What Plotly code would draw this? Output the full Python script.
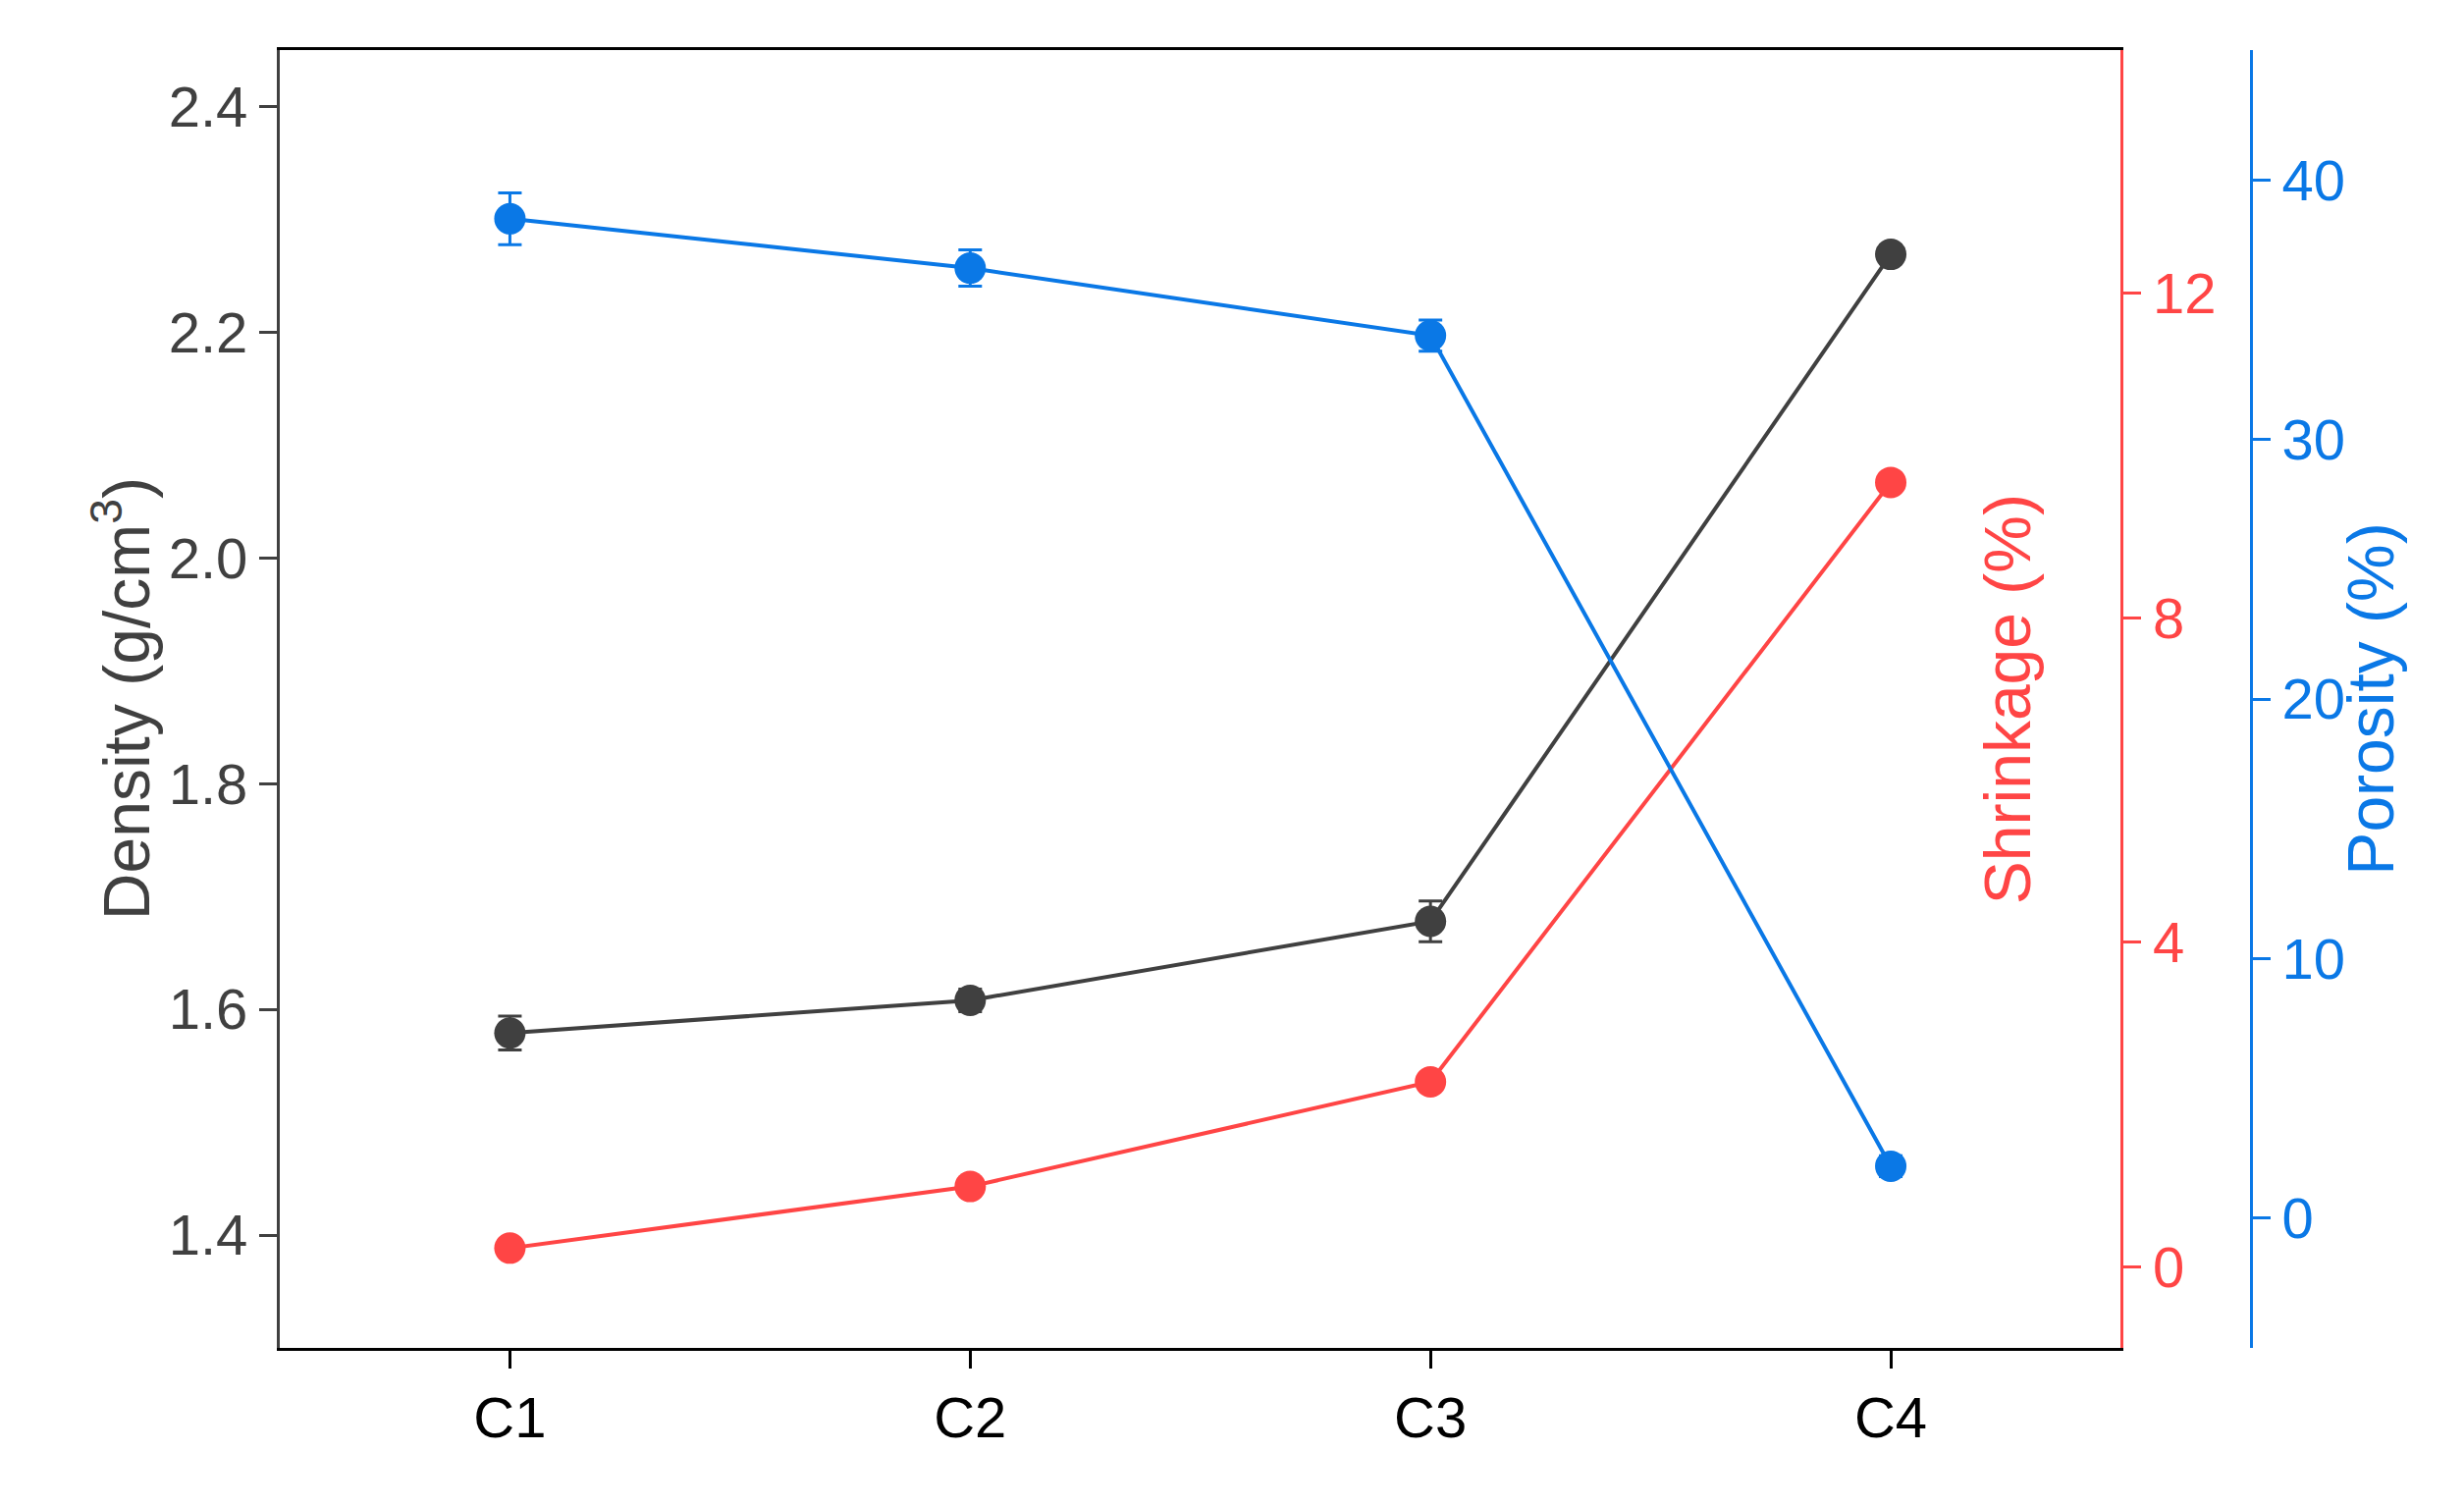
import plotly.graph_objects as go

categories = ["C1", "C2", "C3", "C4"]
density = [1.579, 1.608, 1.678, 2.269]
density_err = [0.015, 0.01, 0.018, 0.008]
shrinkage = [0.23, 0.99, 2.28, 9.67]
shrinkage_err = [0.1, 0.1, 0.1, 0.1]
porosity = [38.5, 36.6, 34.0, 2.0]
porosity_err = [1.0, 0.7, 0.6, 0.4]

GRAY = "#404040"; RED = "#ff4545"; BLUE = "#0a78e6"
x = [0, 1, 2, 3]
F = "Liberation Sans, Arial"

fig = go.Figure()
for ys, err, col, ax in [(density, density_err, GRAY, "y"), (shrinkage, shrinkage_err, RED, "y2"),
                         (porosity, porosity_err, BLUE, "y3")]:
    fig.add_trace(go.Scatter(x=x, y=ys, mode="lines+markers", yaxis=ax,
        line=dict(color=col, width=4), marker=dict(size=32, color=col),
        error_y=dict(array=err, color=col, thickness=3, width=12)))

tf = 58
common = dict(showline=True, linewidth=3, ticks="outside", ticklen=18, tickwidth=3,
              showgrid=False, zeroline=False)
fig.update_layout(
    width=2510, height=1533, showlegend=False,
    plot_bgcolor="white", paper_bgcolor="white",
    margin=dict(l=277, r=225, t=43, b=168),
    font=dict(family=F),
    xaxis=dict(domain=[0, 0.934], range=[-0.5, 3.5], tickvals=x, ticktext=categories,
               linecolor="black", mirror=True, tickcolor="black",
               tickfont=dict(size=tf, color="black"), **common),
    yaxis=dict(range=[1.30, 2.45], tickvals=[1.4, 1.6, 1.8, 2.0, 2.2, 2.4], tickformat=".1f",
               linecolor=GRAY, tickcolor=GRAY, tickfont=dict(size=tf, color=GRAY), **common),
    yaxis2=dict(range=[-1, 15], tickvals=[0, 4, 8, 12], overlaying="y", side="right", anchor="x",
                linecolor=RED, tickcolor=RED, tickfont=dict(size=tf, color=RED), **common),
    yaxis3=dict(range=[-5, 45], tickvals=[0, 10, 20, 30, 40], overlaying="y", side="right",
                anchor="free", position=1.0,
                linecolor=BLUE, tickcolor=BLUE, tickfont=dict(size=tf, color=BLUE), **common),
    annotations=[
        dict(text="Density (g/cm<sup>3</sup>)", x=-0.102, y=0.5, xref="paper", yref="paper",
             textangle=-90, showarrow=False, font=dict(size=66, color=GRAY)),
        dict(text="Shrinkage (%)", x=0.896, y=0.5, xref="paper", yref="paper",
             textangle=-90, showarrow=False, font=dict(size=66, color=RED)),
        dict(text="Porosity (%)", x=1.080, y=0.5, xref="paper", yref="paper",
             textangle=-90, showarrow=False, font=dict(size=66, color=BLUE)),
    ],
)
fig.write_html("out.html")
